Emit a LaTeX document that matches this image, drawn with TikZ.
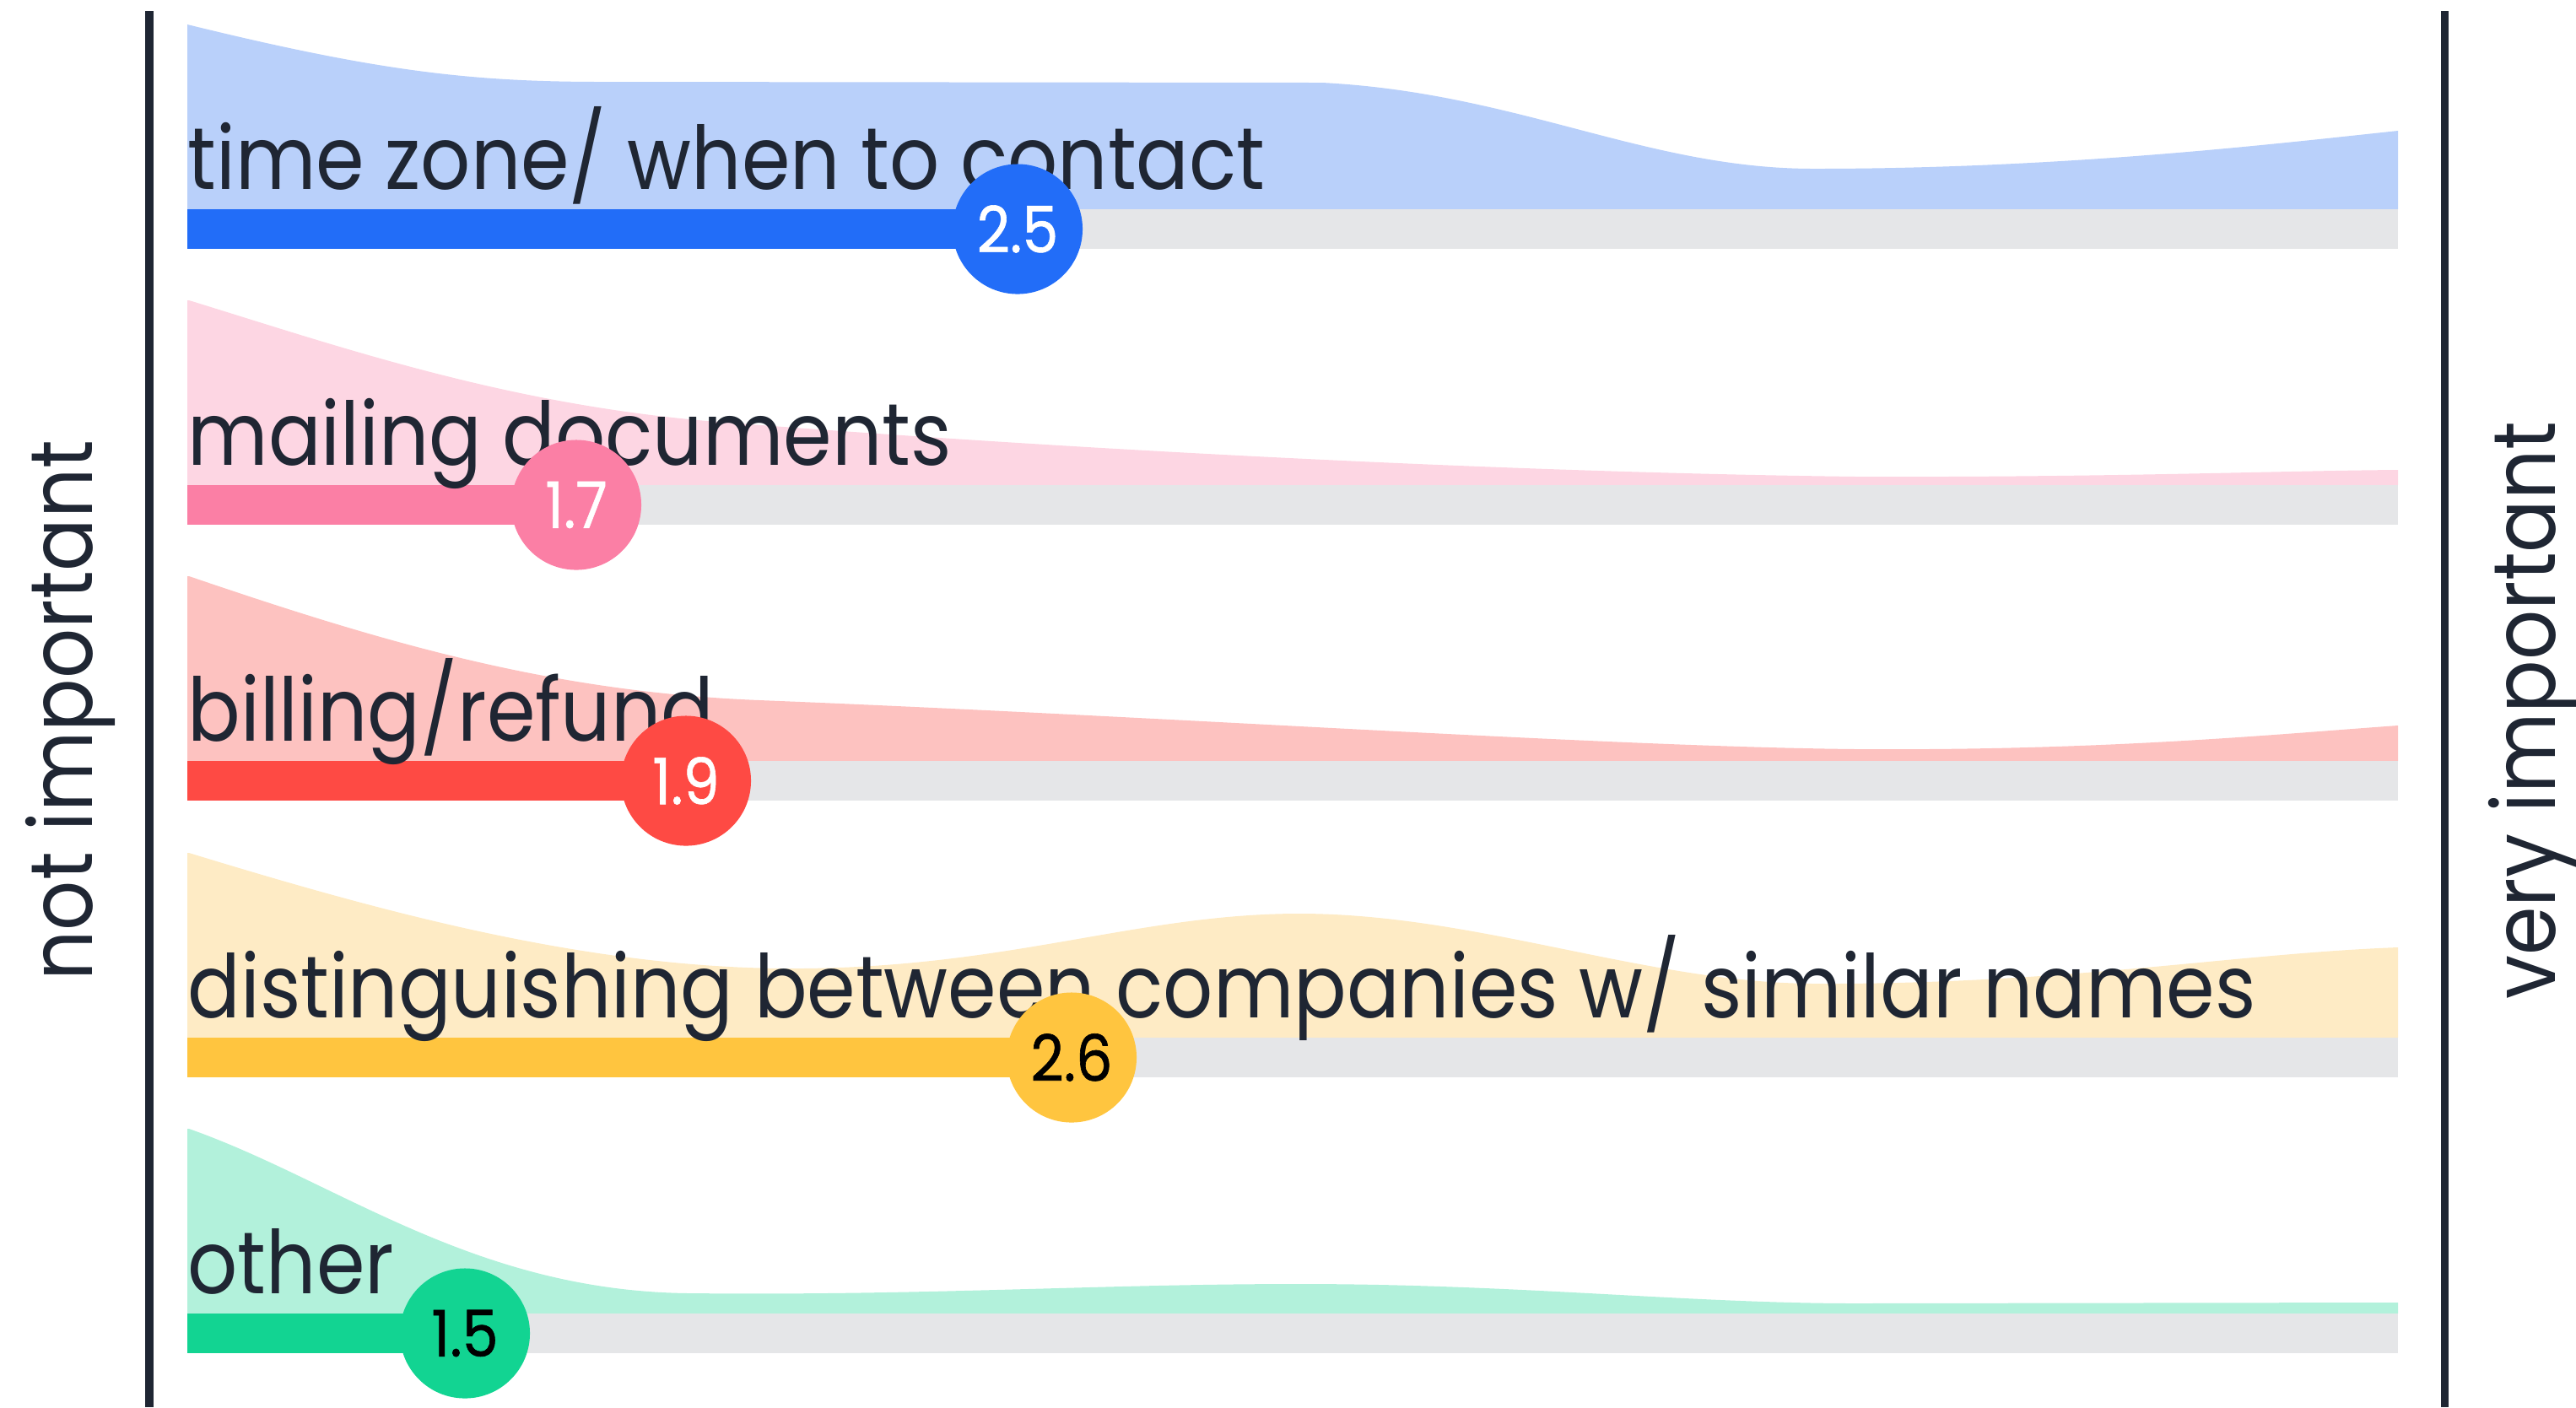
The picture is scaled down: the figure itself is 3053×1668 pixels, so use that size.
\documentclass[tikz,border=0pt]{standalone}
\usepackage{fontspec}
\setmainfont{Poppins}[FakeStretch=0.89]
\newfontfamily\numfont{Poppins}[FakeStretch=0.9,FakeBold=0.8]
\usetikzlibrary{calc}

\definecolor{ink}{HTML}{1F2633}
\definecolor{trackgrey}{HTML}{E5E6E8}
\definecolor{blueD}{HTML}{226DF8}
\definecolor{blueL}{HTML}{B9D0FA}
\definecolor{pinkD}{HTML}{FB7FA5}
\definecolor{pinkL}{HTML}{FDD6E3}
\definecolor{redD}{HTML}{FE4A44}
\definecolor{redL}{HTML}{FDC2C0}
\definecolor{yelD}{HTML}{FFC53F}
\definecolor{yelL}{HTML}{FEEBC5}
\definecolor{grnD}{HTML}{12D492}
\definecolor{grnL}{HTML}{B2F1DB}

\begin{document}
\begin{tikzpicture}[x=0.01cm,y=-0.01cm,
  axis/.style={ink,line width=0.09cm},
  track/.style={trackgrey,line width=0.47cm},
  bar/.style={line width=0.47cm},
  topic/.style={anchor=base west,inner sep=0pt,text=ink,font=\fontsize{29.6}{36}\selectfont},
  side/.style={anchor=base,inner sep=0pt,text=ink,rotate=90,font=\fontsize{29.6}{36}\selectfont},
  score/.style={circle,inner sep=0pt,minimum size=1.54cm,font=\numfont\fontsize{21.6}{26}\selectfont}]
\useasboundingbox (0,0) rectangle (3053,1668);

% axes
\coordinate (ltop) at (177,13);
\coordinate (lbot) at (177,1668);
\coordinate (rtop) at (2897,13);
\coordinate (rbot) at (2897,1668);
\draw[axis] (ltop) -- (lbot);
\draw[axis] (rtop) -- (rbot);
\node[side] (notimp) at (110,842) {not important};
\node[side] (veryimp) at (3028,842) {very important};

% time zone
\fill[blueL] (222,29) .. controls (450,85) and (560,97) .. (714,97) -- (1567,98)
  .. controls (1800,110) and (1950,200) .. (2150,200)
  .. controls (2450,200) and (2700,170) .. (2842,155) -- (2842,248) -- (222,248) -- cycle;
\coordinate (s1) at (222,271.5);
\coordinate (e1) at (2842,271.5);
\coordinate (v1) at (1206,271.5);
\draw[track] (s1) -- (e1);
\draw[bar,blueD] (s1) -- (v1);
\node[topic] (t1) at (222,224) {time zone/ when to contact};
\node[score,fill=blueD,text=white] (c1) at (v1) {2.5};

% mailing
\fill[pinkL] (224,356) .. controls (400,410) and (600,480) .. (850,500)
  .. controls (1300,535) and (1800,560) .. (2200,565)
  .. controls (2500,566) and (2700,558) .. (2842,557) -- (2842,575) -- (222,575) -- (222,356) -- cycle;
\coordinate (s2) at (222,598.5);
\coordinate (e2) at (2842,598.5);
\coordinate (v2) at (683,598.5);
\draw[track] (s2) -- (e2);
\draw[bar,pinkD] (s2) -- (v2);
\node[topic] (t2) at (222,551) {mailing documents};
\node[score,fill=pinkD,text=white] (c2) at (v2) {1.7};

% billing
\fill[redL] (224,683) .. controls (450,760) and (650,820) .. (900,830)
  .. controls (1400,850) and (1900,885) .. (2200,888)
  .. controls (2500,890) and (2700,870) .. (2842,860) -- (2842,902) -- (222,902) -- (222,683) -- cycle;
\coordinate (s3) at (222,925.5);
\coordinate (e3) at (2842,925.5);
\coordinate (v3) at (813,925.5);
\draw[track] (s3) -- (e3);
\draw[bar,redD] (s3) -- (v3);
\node[topic] (t3) at (222,878) {billing/refund};
\node[score,fill=redD,text=white] (c3) at (v3) {1.9};

% distinguishing
\fill[yelL] (224,1011) .. controls (450,1080) and (700,1150) .. (950,1148)
  .. controls (1200,1146) and (1350,1083) .. (1540,1083)
  .. controls (1750,1083) and (1950,1165) .. (2150,1166)
  .. controls (2450,1167) and (2650,1130) .. (2842,1123) -- (2842,1230) -- (222,1230) -- (222,1011) -- cycle;
\coordinate (s4) at (222,1253.5);
\coordinate (e4) at (2842,1253.5);
\coordinate (v4) at (1270,1253.5);
\draw[track] (s4) -- (e4);
\draw[bar,yelD] (s4) -- (v4);
\node[topic] (t4) at (222,1206) {distinguishing between companies w/ similar names};
\node[score,fill=yelD,text=black] (c4) at (v4) {2.6};

% other
\fill[grnL] (224,1338) .. controls (400,1400) and (560,1530) .. (816,1533)
  .. controls (1100,1536) and (1300,1522) .. (1540,1522)
  .. controls (1800,1522) and (2000,1545) .. (2200,1545) -- (2842,1544) -- (2842,1557) -- (222,1557) -- (222,1338) -- cycle;
\coordinate (s5) at (222,1580.5);
\coordinate (e5) at (2842,1580.5);
\coordinate (v5) at (551,1580.5);
\draw[track] (s5) -- (e5);
\draw[bar,grnD] (s5) -- (v5);
\node[topic] (t5) at (222,1533) {other};
\node[score,fill=grnD,text=black] (c5) at (v5) {1.5};

\end{tikzpicture}
\end{document}
